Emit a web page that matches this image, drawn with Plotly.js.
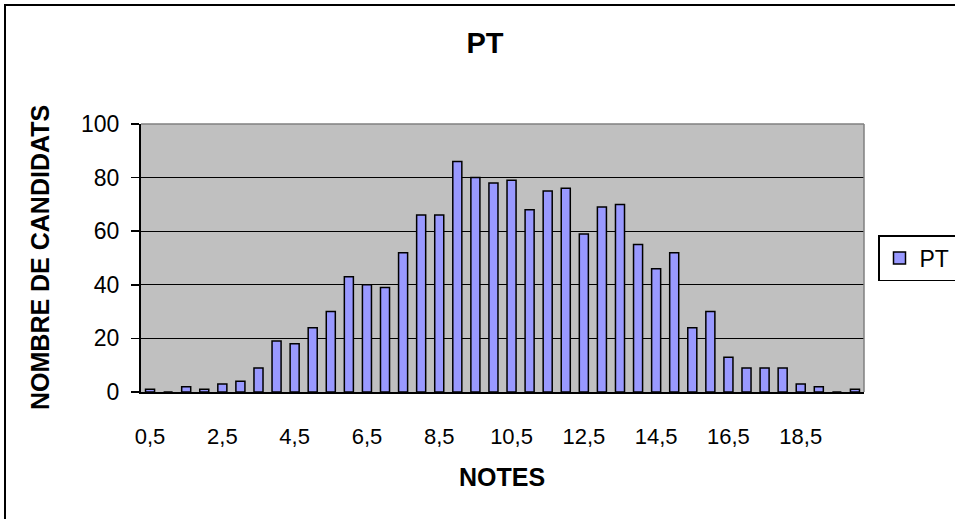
<!DOCTYPE html>
<html>
<head>
<meta charset="utf-8">
<script src="https://cdn.plot.ly/plotly-3.0.1.min.js"></script>
<style>html,body{margin:0;padding:0;background:#fff;}#chart{width:955px;height:519px;}</style>
</head>
<body>
<div id="chart"></div>
<script>
const notes = ['0,5','1','1,5','2','2,5','3','3,5','4','4,5','5',
               '5,5','6','6,5','7','7,5','8','8,5','9','9,5','10',
               '10,5','11','11,5','12','12,5','13','13,5','14','14,5','15',
               '15,5','16','16,5','17','17,5','18','18,5','19','19,5','20'];
const candidats = [1,0,2,1,3,4,9,19,18,24,
                   30,43,40,39,52,66,66,86,80,78,
                   79,68,75,76,59,69,70,55,46,52,
                   24,30,13,9,9,9,3,2,0,1];
const tickLabels = ['0,5','2,5','4,5','6,5','8,5','10,5','12,5','14,5','16,5','18,5'];
const yTicks = [0,20,40,60,80,100];

const font = 'Liberation Sans, Arial, sans-serif';

const trace = {
  type: 'bar',
  x: notes,
  y: candidats,
  name: 'PT',
  marker: {color: '#9999FF', line: {color: '#000000', width: 1.5}},
  hoverinfo: 'x+y'
};

const PL = 141, PR = 864, PT = 124, PB = 392;
const PW = PR - PL, PH = PB - PT;
const px = v => (v - PL) / PW;
const py = v => (PB - v) / PH;

const layout = {
  width: 955, height: 519,
  margin: {l: PL, r: 955 - PR, t: PT, b: 519 - PB, autoexpand: false},
  paper_bgcolor: '#ffffff',
  plot_bgcolor: '#C0C0C0',
  font: {family: font, color: '#000', size: 22},
  bargap: 0.5,
  showlegend: true,
  title: {text: '<b>PT</b>', x: 485/955, xref: 'container', xanchor: 'center',
          y: 1 - 43/519, yref: 'container', yanchor: 'middle',
          font: {family: font, size: 29, color: '#000'}},
  xaxis: {
    type: 'category',
    tickmode: 'array', tickvals: tickLabels, ticktext: tickLabels,
    showgrid: false, zeroline: false,
    showline: true, linecolor: '#000', linewidth: 2,
    ticks: 'outside', ticklen: 24, tickcolor: 'rgba(0,0,0,0)',
    tickfont: {family: font, size: 22, color: '#000'},
    automargin: false,
    fixedrange: true
  },
  yaxis: {
    range: [0, 100],
    tickmode: 'array', tickvals: yTicks,
    showgrid: true, gridcolor: '#000', gridwidth: 1,
    zeroline: false,
    showline: true, linecolor: '#000', linewidth: 2,
    ticks: 'outside', ticklen: 8, tickcolor: '#000', tickwidth: 1.5,
    ticklabelstandoff: 7,
    tickfont: {family: font, size: 23, color: '#000'},
    automargin: false,
    fixedrange: true
  },
  legend: {
    x: px(878), xanchor: 'left', y: py(258), yanchor: 'middle',
    bordercolor: '#000', borderwidth: 1.5, bgcolor: '#fff',
    font: {family: font, size: 23, color: '#000'},
    itemwidth: 30
  },
  annotations: [
    {text: '<b>NOMBRE DE CANDIDATS</b>', xref: 'paper', yref: 'paper',
     x: px(40), y: 0.5, xanchor: 'center', yanchor: 'middle', textangle: -90,
     showarrow: false, font: {family: font, size: 25, color: '#000'}},
    {text: '<b>NOTES</b>', xref: 'paper', yref: 'paper',
     x: px(502), y: py(477), xanchor: 'center', yanchor: 'middle',
     showarrow: false, font: {family: font, size: 25, color: '#000'}}
  ],
  shapes: [
    {type: 'line', xref: 'paper', yref: 'paper', x0: 0, x1: 1, y0: 1, y1: 1,
     line: {color: '#808080', width: 1.5}},
    {type: 'line', xref: 'paper', yref: 'paper', x0: 1, x1: 1, y0: 0, y1: 1,
     line: {color: '#808080', width: 1.5}},
    {type: 'rect', xref: 'paper', yref: 'paper',
     x0: px(5), x1: px(975), y0: py(540), y1: py(5),
     line: {color: '#000', width: 2}, fillcolor: 'rgba(0,0,0,0)', layer: 'below'}
  ]
};

Plotly.newPlot('chart', [trace], layout, {displayModeBar: false, staticPlot: true});
</script>
</body>
</html>
